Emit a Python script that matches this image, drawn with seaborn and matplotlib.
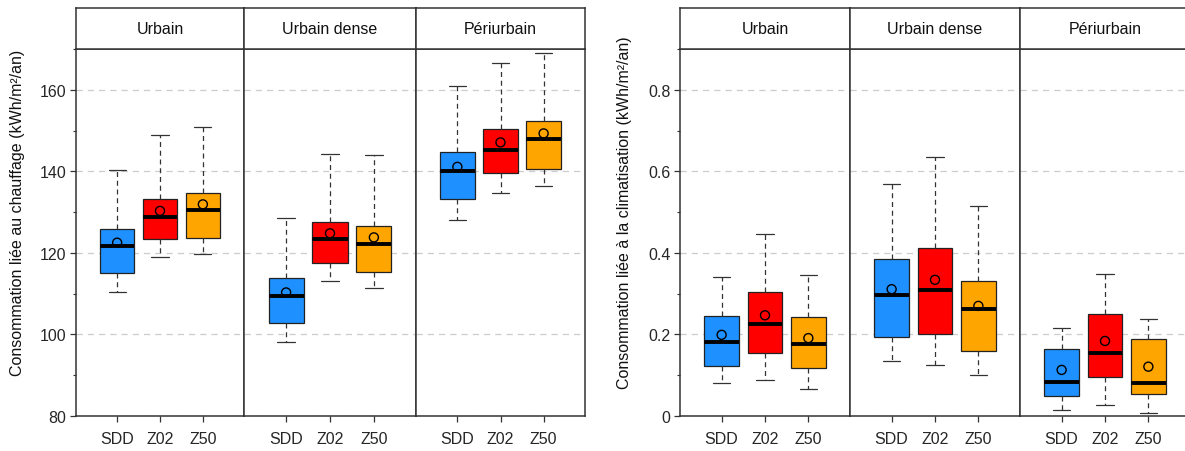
import numpy as np
import pandas as pd
import matplotlib
matplotlib.use('Agg')
import matplotlib.pyplot as plt
from matplotlib.ticker import MultipleLocator, FuncFormatter
import seaborn as sns

sns.set_theme(style='white')
plt.rcParams['font.family'] = ['Liberation Sans', 'DejaVu Sans']

# categories
zones = ['Urbain', 'Urbain dense', 'Périurbain']
scenarios = ['SDD', 'Z02', 'Z50']
colors = ['#1E90FF', '#FF0000', '#FFA500']

# heating consumption (kWh/m2/an) - one row per zone, one value per scenario
chauf_low = [[110.3, 118.9, 119.8], [98.2, 113.0, 111.4], [128.1, 134.8, 136.4]]
chauf_q1 = [[115.0, 123.3, 123.6], [102.9, 117.4, 115.2], [133.3, 139.7, 140.5]]
chauf_med = [[121.6, 128.7, 130.6], [109.4, 123.4, 122.1], [140.2, 145.2, 147.9]]
chauf_q3 = [[125.9, 133.1, 134.8], [113.9, 127.6, 126.5], [144.8, 150.3, 152.4]]
chauf_high = [[140.4, 148.9, 150.9], [128.6, 144.2, 144.0], [161.0, 166.6, 169.1]]
chauf_mean = [[122.5, 130.3, 131.9], [110.3, 124.8, 123.8], [141.1, 147.1, 149.3]]

# cooling consumption (kWh/m2/an)
clim_low = [[0.081, 0.088, 0.067], [0.136, 0.124, 0.101], [0.015, 0.027, 0.008]]
clim_q1 = [[0.123, 0.155, 0.118], [0.194, 0.201, 0.159], [0.049, 0.096, 0.053]]
clim_med = [[0.182, 0.225, 0.177], [0.296, 0.310, 0.262], [0.083, 0.154, 0.082]]
clim_q3 = [[0.245, 0.304, 0.243], [0.386, 0.412, 0.332], [0.164, 0.251, 0.188]]
clim_high = [[0.340, 0.447, 0.347], [0.568, 0.635, 0.516], [0.216, 0.348, 0.238]]
clim_mean = [[0.199, 0.247, 0.191], [0.311, 0.334, 0.270], [0.113, 0.184, 0.121]]

W, H = 1185, 452
fig = plt.figure(figsize=(W / 100, H / 100), dpi=100)

frame_col = '#333333'


def build_frame(low, q1, med, q3, high, i):
    # five-number samples so that the boxplot reproduces the summary
    rows = []
    for j, s in enumerate(scenarios):
        for v in [low[i][j], q1[i][j], med[i][j], q3[i][j], high[i][j]]:
            rows.append({'scenario': s, 'value': v})
    return pd.DataFrame(rows)


def draw_panel(x_edges, stats, means, ylim, major, minor, fmt, ylabel, label_x):
    y_bot, y_top, strip_top = 417, 50, 9
    for i, zone in enumerate(zones):
        x0, x1 = x_edges[i], x_edges[i + 1]
        ax = fig.add_axes([x0 / W, (H - y_bot) / H, (x1 - x0) / W, (y_bot - y_top) / H])
        df = build_frame(*stats, i)
        sns.boxplot(data=df, x='scenario', y='value', hue='scenario', order=scenarios,
                    hue_order=scenarios, palette=colors, saturation=1, width=0.8,
                    whis=(0, 100), showfliers=False, legend=False, linecolor='#222222',
                    linewidth=0.9, ax=ax,
                    medianprops=dict(color='black', linewidth=2.8),
                    whiskerprops=dict(color='#333333', linestyle=(0, (4, 3)), linewidth=0.9),
                    capprops=dict(color='#333333', linewidth=0.9))
        sns.stripplot(x=scenarios, y=means[i], order=scenarios, jitter=False,
                      size=6.5, ax=ax)
        for coll in ax.collections:
            coll.set_facecolor('none')
            coll.set_edgecolor('black')
            coll.set_linewidth(1.0)
            coll.set_zorder(6)
        ax.set_xlim(-0.96, 2.96)
        ax.set_ylim(*ylim)
        ax.yaxis.set_major_locator(MultipleLocator(major))
        ax.yaxis.set_minor_locator(MultipleLocator(minor))
        ax.yaxis.set_major_formatter(FuncFormatter(fmt))
        ax.grid(axis='y', which='major', color='#cccccc', linestyle=(0, (5, 4)), linewidth=0.9)
        ax.grid(axis='x', visible=False)
        ax.set_axisbelow(True)
        ax.set_xlabel('')
        ax.set_ylabel('')
        for sp in ax.spines.values():
            sp.set_color(frame_col)
            sp.set_linewidth(1.1)
        ax.tick_params(axis='x', direction='out', length=4, width=0.9, color=frame_col,
                       pad=7, labelsize=11.5, bottom=True)
        if i == 0:
            ax.tick_params(axis='y', which='major', direction='out', length=4, width=0.9,
                           color=frame_col, pad=3, labelsize=11.5, left=True)
            ax.tick_params(axis='y', which='minor', direction='out', length=2.5, width=0.8,
                           color=frame_col, left=True)
        else:
            ax.tick_params(axis='y', which='both', left=False, labelleft=False)
        # strip with zone name
        sx = fig.add_axes([x0 / W, (H - y_top) / H, (x1 - x0) / W, (y_top - strip_top) / H])
        sx.set_xticks([])
        sx.set_yticks([])
        sx.set_facecolor('white')
        for sp in sx.spines.values():
            sp.set_color(frame_col)
            sp.set_linewidth(1.1)
        sx.text(0.5, 0.5, zone, ha='center', va='center', fontsize=11.5, color='#111111',
                transform=sx.transAxes)
    fig.text(label_x / W, (H - (strip_top + y_bot) / 2) / H, ylabel, rotation=90,
             ha='center', va='center', fontsize=11.5, color='#111111')


draw_panel([76, 244, 416, 585],
           (chauf_low, chauf_q1, chauf_med, chauf_q3, chauf_high), chauf_mean,
           (80, 170), 20, 10, lambda v, p: '{:g}'.format(v),
           'Consommation liée au chauffage (kWh/m²/an)', 18)

draw_panel([680, 850, 1020, 1190],
           (clim_low, clim_q1, clim_med, clim_q3, clim_high), clim_mean,
           (0, 0.9), 0.2, 0.1, lambda v, p: '{:g}'.format(round(v, 2)),
           'Consommation liée à la climatisation (kWh/m²/an)', 624)

fig.savefig('out.png', dpi=100)
